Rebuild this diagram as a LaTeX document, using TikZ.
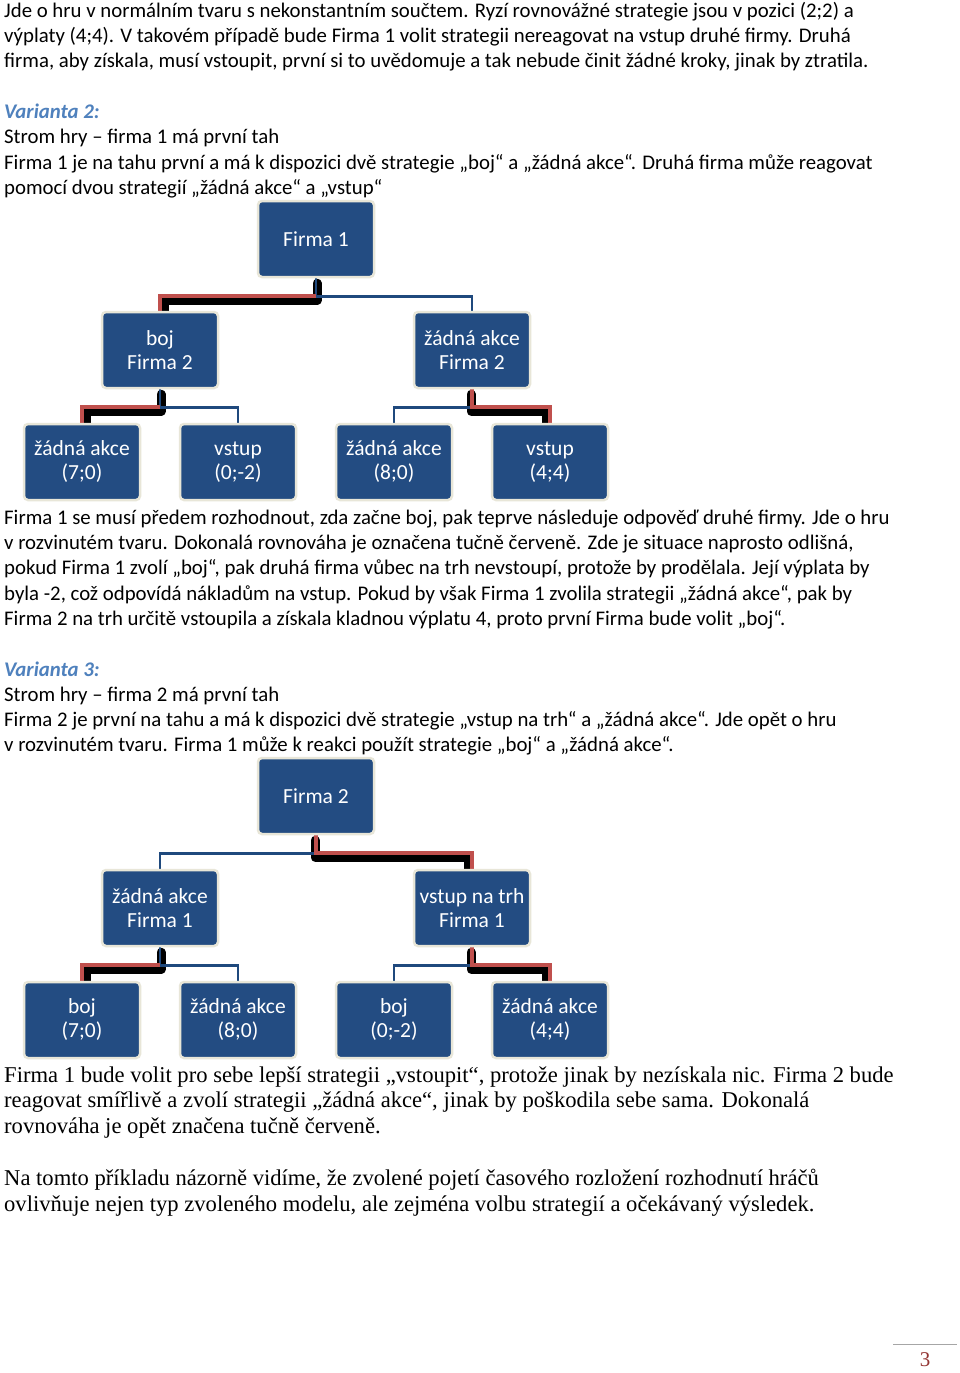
\documentclass[tikz,border=0pt]{standalone}
\usepackage{fontspec}
\setmainfont{Carlito}
\newfontfamily\seriffont{Liberation Serif}
\usetikzlibrary{calc,backgrounds}
\definecolor{boxblue}{RGB}{35,76,130}
\definecolor{lineblue}{RGB}{31,73,125}
\definecolor{hred}{RGB}{192,80,77}
\definecolor{vblue}{RGB}{79,129,189}
\definecolor{rim}{RGB}{232,230,216}
\definecolor{pagenum}{RGB}{148,54,52}
\begin{document}
\begin{tikzpicture}[x=1pt,y=-1pt,
  txt/.style={anchor=base west, inner sep=0pt, font=\fontsize{20.8}{24}\selectfont},
  stxt/.style={anchor=base west, inner sep=0pt, font=\seriffont\fontsize{22.6}{24}\selectfont},
  head/.style={txt, text=vblue, font=\fontsize{20.8}{24}\selectfont\bfseries\itshape},
  box/.style={draw=rim, line width=2.5pt, fill=boxblue, rounded corners=4pt,
    minimum width=116pt, minimum height=76pt, text=white, align=center,
    font=\fontsize{21.5}{24}\selectfont, inner sep=0pt},
  conn/.style={draw=lineblue, line width=2.6pt},
  hl/.style={draw=hred, line width=4pt},
  shadowline/.style={draw=black, line width=9pt, line cap=round, line join=round}]
\useasboundingbox (0,0) rectangle (960,1373);
\begin{pgfonlayer}{background}
\fill[white] (0,0) rectangle (960,1373);
\end{pgfonlayer}

% ---------- text before tree 1
\node[txt] (t1) at (4,17) {Jde o hru v normálním tvaru s nekonstantním součtem. Ryzí rovnovážné strategie jsou v pozici (2;2) a};
\node[txt] (t2) at (4,42) {výplaty (4;4). V takovém případě bude Firma 1 volit strategii nereagovat na vstup druhé firmy. Druhá};
\node[txt] (t3) at (4,67) {firma, aby získala, musí vstoupit, první si to uvědomuje a tak nebude činit žádné kroky, jinak by ztratila.};
\node[head] (v2) at (4,118) {Varianta 2:};
\node[txt] (t4) at (4,143) {Strom hry – firma 1 má první tah};
\node[txt] (t5) at (4,169) {Firma 1 je na tahu první a má k dispozici dvě strategie „boj“ a „žádná akce“. Druhá firma může reagovat};
\node[txt] (t6) at (4,194) {pomocí dvou strategií „žádná akce“ a „vstup“};

% ---------- tree 1
\node[box] (f1) at (316,239) {Firma 1};
\node[box] (a1) at (160,350) {boj\\Firma 2};
\node[box] (b1) at (472,350) {žádná akce\\Firma 2};
\node[box] (l1) at (82,462) {žádná akce\\(7;0)};
\node[box] (l2) at (238,462) {vstup\\(0;-2)};
\node[box] (l3) at (394,462) {žádná akce\\(8;0)};
\node[box] (l4) at (550,462) {vstup\\(4;4)};

% ---------- text between trees
\node[txt] (t7) at (4,524) {Firma 1 se musí předem rozhodnout, zda začne boj, pak teprve následuje odpověď druhé firmy. Jde o hru};
\node[txt] (t8) at (4,549) {v rozvinutém tvaru. Dokonalá rovnováha je označena tučně červeně. Zde je situace naprosto odlišná,};
\node[txt] (t9) at (4,574) {pokud Firma 1 zvolí „boj“, pak druhá firma vůbec na trh nevstoupí, protože by prodělala. Její výplata by};
\node[txt] (t10) at (4,600) {byla -2, což odpovídá nákladům na vstup. Pokud by však Firma 1 zvolila strategii „žádná akce“, pak by};
\node[txt] (t11) at (4,625) {Firma 2 na trh určitě vstoupila a získala kladnou výplatu 4, proto první Firma bude volit „boj“.};
\node[head] (v3) at (4,676) {Varianta 3:};
\node[txt] (t12) at (4,701) {Strom hry – firma 2 má první tah};
\node[txt] (t13) at (4,726) {Firma 2 je první na tahu a má k dispozici dvě strategie „vstup na trh“ a „žádná akce“. Jde opět o hru};
\node[txt] (t14) at (4,751) {v rozvinutém tvaru. Firma 1 může k reakci použít strategie „boj“ a „žádná akce“.};

% ---------- tree 2
\node[box] (f2) at (316,796) {Firma 2};
\node[box] (a2) at (160,908) {žádná akce\\Firma 1};
\node[box] (b2) at (472,908) {vstup na trh\\Firma 1};
\node[box] (m1) at (82,1020) {boj\\(7;0)};
\node[box] (m2) at (238,1020) {žádná akce\\(8;0)};
\node[box] (m3) at (394,1020) {boj\\(0;-2)};
\node[box] (m4) at (550,1020) {žádná akce\\(4;4)};

% ---------- serif text
\node[stxt] (s1) at (4,1082) {Firma 1 bude volit pro sebe lepší strategii „vstoupit“, protože jinak by nezískala nic. Firma 2 bude};
\node[stxt] (s2) at (4,1107) {reagovat smířlivě a zvolí strategii „žádná akce“, jinak by poškodila sebe sama. Dokonalá};
\node[stxt] (s3) at (4,1133) {rovnováha je opět značena tučně červeně.};
\node[stxt] (s4) at (4,1185) {Na tomto příkladu názorně vidíme, že zvolené pojetí časového rozložení rozhodnutí hráčů};
\node[stxt] (s5) at (4,1211) {ovlivňuje nejen typ zvoleného modelu, ale zejména volbu strategií a očekávaný výsledek.};

% ---------- page number
\coordinate (pl) at (893,1344);
\coordinate (pr) at (957,1344);
\draw[gray!70, line width=0.8pt] (pl) -- (pr);
\node[inner sep=0pt, text=pagenum, font=\seriffont\fontsize{21}{24}\selectfont] (pn) at (925,1360) {3};

% ---------- connectors (behind boxes)
\begin{pgfonlayer}{background}
% shadows
\draw[shadowline] ($(f1.south)+(1,5)$) -- ($(f1.south)+(1,22)$) -| ($(a1.north)+(4,0)$);
\draw[shadowline] ($(a1.south)+(1,5)$) -- ($(a1.south)+(1,22)$) -| ($(l1.north)+(4,0)$);
\draw[shadowline] ($(b1.south)+(-1,5)$) -- ($(b1.south)+(-1,22)$) -| ($(l4.north)+(-4,0)$);
\draw[shadowline] ($(f2.south)+(-1,5)$) -- ($(f2.south)+(-1,22)$) -| ($(b2.north)+(-4,0)$);
\draw[shadowline] ($(a2.south)+(1,5)$) -- ($(a2.south)+(1,22)$) -| ($(m1.north)+(4,0)$);
\draw[shadowline] ($(b2.south)+(-1,5)$) -- ($(b2.south)+(-1,22)$) -| ($(m4.north)+(-4,0)$);
% normal connectors
\draw[conn] (f1.south) -- ++(0,18) -| (b1.north);
\draw[conn] (a1.south) -- ++(0,18) -| (l2.north);
\draw[conn] (b1.south) -- ++(0,18) -| (l3.north);
\draw[conn] (f2.south) -- ++(0,18) -| (a2.north);
\draw[conn] (a2.south) -- ++(0,18) -| (m2.north);
\draw[conn] (b2.south) -- ++(0,18) -| (m3.north);
% highlighted (equilibrium) connectors
\draw[hl] ($(f1.south)+(0,18)$) -| (a1.north);
\draw[hl] ($(a1.south)+(0,18)$) -| (l1.north);
\draw[hl] (b1.south) -- ++(0,18) -| (l4.north);
\draw[hl] (f2.south) -- ++(0,18) -| (b2.north);
\draw[hl] ($(a2.south)+(0,18)$) -| (m1.north);
\draw[hl] (b2.south) -- ++(0,18) -| (m4.north);
\end{pgfonlayer}
\end{tikzpicture}
\end{document}
